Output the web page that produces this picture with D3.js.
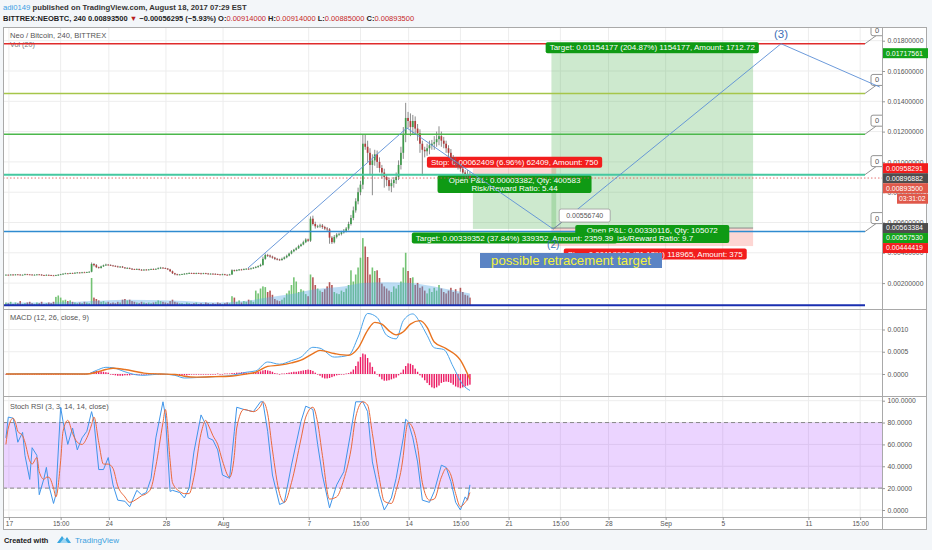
<!DOCTYPE html>
<html><head><meta charset="utf-8">
<script src="https://cdn.jsdelivr.net/npm/d3@7/dist/d3.min.js"></script>
<style>
html,body{margin:0;padding:0;background:#f3f6f9;}
svg{display:block;font-family:"Liberation Sans",Arial,sans-serif;}
</style></head><body>
<svg id="chart" width="932" height="550"></svg>
<script>
// ---------- DATA (prices in units of 1e-5 BTC unless noted) ----------
const closes=[
255,254,256,255,257,256,254,255,258,257,256,254,
255,257,256,253,252,254,253,251,250,252,255,258,
262,264,263,266,265,268,270,268,271,270,272,275,
326,318,305,300,310,318,322,320,316,
314,310,306,309,303,298,300,295,292,290,293,288,286,289,287,290,
292,291,294,298,302,299,296,290,
278,265,258,255,257,
259,262,264,266,265,263,266,264,262,265,263,260,262,261,259,257,256,258,255,254,257,
285,282,286,290,288,292,295,293,297,302,306,312,320,
360,385,382,375,368,360,356,352,360,370,380,395,410,420,430,445,455,470,488,480,
625,590,575,575,580,570,560,555,500,470,505,520,525,535,545,560,590,630,680,740,800,850,
1120,1100,1060,980,1010,1050,1000,960,930,900,880,840,860,880,900,
980,1060,1180,1290,1270,1230,1270,1220,1190,1120,1080,1070,1090,1110,1120,1130,1150,1170,1140,1120,1090,1060,1030,1010,990,970,955,930,915,914,893.5];
const wickUp=[
3,2,3,4,2,3,3,2,4,3,2,3,3,2,3,3,2,4,3,2,3,3,4,3,3,4,2,3,3,4,3,2,3,4,3,3,
10,6,8,4,5,4,6,3,4,
4,3,5,3,4,3,5,3,4,3,4,3,5,3,4,3,
4,5,3,6,5,3,4,3,
4,5,3,4,3,
3,4,3,5,3,4,3,3,4,3,3,4,3,3,4,3,3,4,3,3,4,
6,4,5,3,4,5,3,4,5,4,6,5,8,
15,10,8,6,6,5,6,5,8,6,8,6,8,6,7,8,6,10,8,6,
15,20,15,10,12,10,8,10,8,10,12,10,8,10,12,10,15,20,25,20,30,25,
58,60,40,30,40,30,25,30,20,25,20,15,25,20,30,
30,40,50,100,40,50,40,30,30,25,20,20,30,30,25,40,50,65,30,25,20,20,25,15,20,15,20,15,15,30,20];
const wickDn=[
3,3,2,3,4,2,3,3,2,3,3,2,3,3,2,4,3,2,3,3,2,3,3,2,3,2,3,3,2,3,3,4,3,2,3,3,
4,8,6,5,4,3,5,4,3,
3,4,3,5,3,4,3,3,5,3,3,4,3,4,3,3,
3,4,3,3,5,4,3,4,
4,5,6,4,3,
3,3,4,3,3,3,4,3,3,3,4,3,3,4,3,3,3,4,3,3,3,
3,6,4,5,4,3,4,5,3,4,4,5,4,
5,6,10,8,7,8,6,5,4,5,6,5,5,6,5,5,6,5,6,8,
8,10,15,12,10,12,10,15,40,12,8,10,8,10,8,10,12,10,15,15,20,20,
30,20,60,60,200,35,40,30,40,70,40,30,40,30,25,
20,30,40,50,50,60,50,40,50,60,170,40,30,40,30,40,30,40,40,30,30,30,25,30,25,20,20,25,20,20,10];
const volumes=[
5,4,6,3,5,4,7,3,4,5,6,4,3,5,4,6,3,4,5,4,6,13,15,12,
8,9,7,8,6,5,4,5,4,6,5,4,
40,12,10,8,6,7,5,6,4,
5,4,6,5,9,10,8,9,7,6,5,4,6,5,4,5,
4,5,6,8,7,6,5,4,
7,9,6,5,4,
4,3,5,4,3,4,5,3,4,3,5,4,3,4,3,5,4,3,4,5,4,
14,12,6,8,5,7,6,9,8,6,22,18,25,
28,27,20,22,16,10,8,7,9,12,18,22,30,41,35,20,24,22,17,14,
45,41,30,25,22,20,24,28,34,30,20,18,17,22,20,25,30,51,35,45,55,69,
97,85,70,45,55,50,51,40,32,28,25,22,20,28,25,
30,35,55,76,50,40,41,30,33,26,28,22,18,25,20,26,22,30,25,20,18,22,26,20,24,18,26,20,16,15,12];
// Vol MA(20) read at sampled bars [bar, value]
const volMA=[[0,5],[20,5],[36,7],[50,9],[70,8],[90,5],[100,7],[110,12],[120,17],[130,24],[140,27],[150,33],[160,34],[170,33],[180,28],[190,21],[195,18]];
// MACD (12,26,9) read at sampled bars [bar, value in BTC]
const macdLine=[[0,0],[20,0.00001],[34,0],[38,0.00008],[42,0.00015],[45,0.00014],[50,0.00005],[55,-0.00002],[58,-0.00003],[65,0],[71,-0.00003],[75,-0.00009],[80,-0.00008],[88,-0.00006],[94,-0.00004],[101,0.00004],[105,0.00007],[110,0.00027],[115,0.00022],[120,0.0003],[124,0.00038],[129,0.0006],[132,0.00058],[138,0.00038],[144,0.00042],[148,0.00083],[152,0.00136],[156,0.00127],[160,0.00087],[164,0.00079],[167,0.0012],[171,0.00135],[174,0.00116],[177,0.00087],[180,0.00059],[184,0.00055],[188,0.00016],[192,-0.00024],[195,-0.00037]];
const signalLine=[[0,0],[34,0],[38,0.00004],[42,0.0001],[45,0.00013],[50,0.0001],[55,0.00005],[58,0.00002],[65,0],[71,-0.00001],[75,-0.00005],[80,-0.00007],[88,-0.00006],[94,-0.00005],[101,0],[105,0.00004],[110,0.00017],[115,0.0002],[120,0.00025],[124,0.00031],[129,0.00046],[132,0.00053],[138,0.00046],[144,0.00042],[148,0.00058],[152,0.00098],[155,0.00116],[158,0.00112],[161,0.00097],[164,0.00088],[167,0.00095],[170,0.00112],[174,0.0012],[177,0.00105],[180,0.00072],[185,0.00057],[191,0.00031],[195,-0.00012]];
// MACD histogram per bar (units 1e-5 BTC)
const macdHist=[
0,0,0,0,0,0,0,0,0,0,0,0,0,0,0,0,0,0,0,0,0,0,0,0,0,0,0,0,0,0,0,0,0,0,
1,2,4,6,7,7,6,5,4,3,
-1,-2,-3,-4,-4,-4,-3,-3,-3,-2,-2,-2,-1,-1,-1,0,
0,0,1,1,0,0,0,-1,-1,-1,-1,-2,
-3,-4,-4,-3,-3,-2,
-1,-1,-1,-1,0,-1,0,0,0,0,0,1,0,0,1,1,1,
2,2,3,3,4,4,3,3,3,4,4,
5,6,8,9,8,7,5,
2,1,0,1,1,
2,3,4,5,5,6,7,8,9,10,9,7,
3,0,-4,-8,-10,-10,-9,-7,-5,
-3,-2,-1,0,1,2,
5,10,18,28,38,46,44,36,26,16,
6,0,-6,-12,-15,-15,
-14,-12,-10,-8,-3,
3,10,18,24,23,20,12,5,
-3,-8,-14,-20,-25,-30,-32,-30,-26,-20,-18,-17,-18,-20,-24,-28,-30,-32,-30,-28,-26,-24];
// Stoch RSI K and D, sampled [bar, value]
const stochK=[[0,66],[1,85],[3,84],[4,75],[5,62],[7,71],[8,50],[10,28],[11,57],[13,50],[14,14],[16,29],[17,39],[18,23],[20,6],[21,14],[23,94],[24,81],[26,60],[28,75],[30,55],[32,66],[34,72],[36,90],[37,81],[39,37],[41,37],[43,48],[45,23],[47,9],[50,8],[52,3],[55,18],[57,14],[59,16],[61,29],[63,66],[66,99],[67,87],[69,17],[70,18],[73,16],[75,11],[77,20],[79,53],[82,87],[84,78],[85,66],[87,64],[89,55],[91,32],[94,29],[96,72],[97,94],[100,92],[104,90],[107,99],[108,99],[110,72],[112,32],[115,5],[117,7],[120,41],[124,81],[126,95],[129,92],[131,60],[133,32],[136,2],[139,23],[142,35],[145,72],[147,99],[150,99],[152,90],[154,44],[157,14],[159,0],[162,11],[164,29],[167,66],[168,83],[169,81],[171,66],[173,44],[175,9],[178,7],[180,17],[183,41],[185,39],[187,26],[189,7],[191,0],[193,12],[194,9],[195,23]];
const stochD=[[0,60],[1,75],[3,84],[4,80],[5,72],[7,68],[8,62],[10,45],[11,42],[13,48],[14,35],[16,28],[17,30],[18,30],[20,20],[21,12],[23,45],[24,72],[26,82],[28,70],[30,62],[32,60],[34,66],[36,78],[37,85],[39,62],[41,42],[43,42],[45,38],[47,22],[50,12],[52,7],[55,10],[57,13],[59,15],[61,20],[63,40],[66,80],[67,92],[69,45],[70,25],[73,17],[75,15],[77,15],[79,30],[82,70],[84,82],[85,78],[87,68],[89,60],[91,45],[94,30],[96,50],[97,75],[100,92],[104,90],[107,95],[108,99],[110,88],[112,55],[115,15],[117,7],[120,25],[124,65],[126,85],[129,94],[131,80],[133,50],[136,10],[139,12],[142,28],[145,55],[147,85],[150,99],[152,96],[154,70],[157,28],[159,8],[162,6],[164,18],[167,50],[168,70],[169,80],[171,75],[173,58],[175,25],[178,9],[180,10],[183,30],[185,38],[187,32],[189,15],[191,3],[193,7],[194,10],[195,16]];
// Axis ticks
const xTickDates=[new Date(2017,6,17),new Date(2017,6,20,15),new Date(2017,6,24),new Date(2017,6,28),new Date(2017,7,1),new Date(2017,7,7),new Date(2017,7,10,15),new Date(2017,7,14),new Date(2017,7,17,15),new Date(2017,7,21),new Date(2017,7,24,15),new Date(2017,7,28),new Date(2017,8,1),new Date(2017,8,5),new Date(2017,8,11),new Date(2017,8,14,15)];
const xTickLabels=["17","15:00","24","28","Aug","7","15:00","14","15:00","21","15:00","28","Sep","5","11","15:00"];
const priceTicks=[0.002,0.004,0.006,0.008,0.010,0.012,0.014,0.016,0.018];
const macdTicks=[0,0.0005,0.001];
const rsiTicks=[0,20,40,60,80,100];
// Drawings (prices in BTC)
const hLinePrices=[0.0178,0.01452,0.01183,0.00916,0.0054,0.00054];
const lastPrice=0.008935;
const shortPos={entry:0.00896882,stop:0.00958291,target:0.0055753,t0:new Date(2017,7,18,12),t1:new Date(2017,7,24,8)};
const longPos={entry:0.00563384,stop:0.00444419,target:0.01717561,t0:new Date(2017,7,24,0),t1:new Date(2017,8,7,3)};
const wavePath=[[new Date(2017,7,2,18),0.0030],[new Date(2017,7,13,21),0.01224],[new Date(2017,7,24,3),0.0055674],[new Date(2017,8,9,2),0.0178],[new Date(2017,8,16,0),0.01494]];
const priceTags=[0.01717561,0.00958291,0.00896882,0.008935,0.00563384,0.0055753,0.00444419];

// ---------- SCALES / LAYOUT ----------
const S=1e-5;
const L=3,R=882,FR=927,T=27,MB=309,KB=396,RB=517,AB=530;
const barTime=i=>new Date(2017,6,16,19+4*i);
const x=d3.scaleTime().domain([new Date(2017,6,17),new Date(2017,8,16)]).range([8.9,8.9+61*14.277]);
const yP=d3.scaleLinear().domain([0,0.018]).range([313.4,40.7]);
const yV=d3.scaleLinear().domain([0,100]).range([306,236]);
const yM=d3.scaleLinear().domain([0,0.001]).range([374,329.5]);
const yR=d3.scaleLinear().domain([0,100]).range([510,400.7]);
const xb=i=>x(barTime(i));

const svg=d3.select("#chart");
const defs=svg.append("defs");
[["main",T,MB],["macd",MB,KB],["rsi",KB,RB]].forEach(([id,t,b])=>{
  defs.append("clipPath").attr("id","clip-"+id).append("rect").attr("x",L).attr("y",t).attr("width",R-L).attr("height",b-t);
});
svg.append("rect").attr("width",932).attr("height",550).attr("fill","#f3f6f9");
svg.append("rect").attr("x",L).attr("y",T).attr("width",FR-L).attr("height",AB-T).attr("fill","#fff");

// header
const h1=svg.append("text").attr("x",3).attr("y",10).attr("font-size",7.7).attr("font-weight","bold").attr("fill","#333");
h1.append("tspan").attr("fill","#3a9ee4").attr("font-weight","normal").text("adi0149");
h1.append("tspan").text(" published on TradingView.com, August 18, 2017 07:29 EST");
const h2=svg.append("text").attr("x",3).attr("y",21).attr("font-size",7.5).attr("fill","#222").attr("font-weight","bold");
[["BITTREX:NEOBTC, 240  0.00893500 ","#222"],["▼","#b71c1c"],[" −0.00056295 (−5.93%)  O:","#222"],["0.00914000","#c62828"],[" H:","#222"],["0.00914000","#c62828"],[" L:","#222"],["0.00885000","#c62828"],[" C:","#222"],["0.00893500","#c62828"]].forEach(([t,c])=>h2.append("tspan").attr("fill",c).attr("font-weight",c=="#222"?"bold":"normal").text(t));

// grids
const grid=svg.append("g").attr("stroke","#ededed").attr("stroke-width",1);
xTickDates.forEach(d=>grid.append("line").attr("x1",x(d)).attr("x2",x(d)).attr("y1",T).attr("y2",RB));
priceTicks.forEach(p=>grid.append("line").attr("x1",L).attr("x2",R).attr("y1",yP(p)).attr("y2",yP(p)));
macdTicks.forEach(p=>grid.append("line").attr("x1",L).attr("x2",R).attr("y1",yM(p)).attr("y2",yM(p)));
rsiTicks.forEach(p=>grid.append("line").attr("x1",L).attr("x2",R).attr("y1",yR(p)).attr("y2",yR(p)));

// pane titles
svg.append("text").attr("x",10).attr("y",38).attr("font-size",7.6).attr("fill","#555").text("Neo / Bitcoin, 240, BITTREX");
svg.append("text").attr("x",10).attr("y",47).attr("font-size",7.2).attr("fill","#777").text("Vol (20)");
svg.append("text").attr("x",10).attr("y",320).attr("font-size",7.4).attr("fill","#555").text("MACD (12, 26, close, 9)");
svg.append("text").attr("x",10).attr("y",409).attr("font-size",7.4).attr("fill","#555").text("Stoch RSI (3, 3, 14, 14, close)");

const main=svg.append("g").attr("clip-path","url(#clip-main)");

function tag(g,cx,cy,txt,bg,fs){
  const gg=g.append("g");
  const r=gg.append("rect");
  const t=gg.append("text").attr("x",cx).attr("y",cy).attr("dy","0.35em").attr("text-anchor","middle").attr("fill","#fff").attr("font-size",fs||8).text(txt);
  const w=t.node().getComputedTextLength()+8;
  r.attr("x",cx-w/2).attr("y",cy-5.5).attr("width",w).attr("height",11).attr("rx",2).attr("fill",bg);
  return gg;
}
function box2(g,cx,cy,w,l1,l2){
  g.append("rect").attr("x",cx-w/2).attr("y",cy-9).attr("width",w).attr("height",18).attr("rx",2).attr("fill","#0f9a14");
  g.append("text").attr("x",cx).attr("y",cy-1.5).attr("text-anchor","middle").attr("fill","#fff").attr("font-size",8).text(l1);
  g.append("text").attr("x",cx).attr("y",cy+7).attr("text-anchor","middle").attr("fill","#fff").attr("font-size",8).text(l2);
}

// zones
const zones=main.append("g");
function zone(p){
  const x0=x(p.t0),x1=x(p.t1);
  const top=(a,b)=>Math.min(yP(a),yP(b)), hh=(a,b)=>Math.abs(yP(a)-yP(b));
  zones.append("rect").attr("x",x0).attr("width",x1-x0).attr("y",top(p.entry,p.target)).attr("height",hh(p.entry,p.target)).attr("fill","#4caf50").attr("opacity",0.28);
  zones.append("rect").attr("x",x0).attr("width",x1-x0).attr("y",top(p.entry,p.stop)).attr("height",hh(p.entry,p.stop)).attr("fill","#f44336").attr("opacity",0.22);
  zones.append("line").attr("x1",x0).attr("x2",x1).attr("y1",yP(p.entry)).attr("y2",yP(p.entry)).attr("stroke","#8a8a8a").attr("stroke-width",1);
}
zone(longPos); zone(shortPos);

// short position labels (under candles)
const shortG=main.append("g");
const scx=(x(shortPos.t0)+x(shortPos.t1))/2;
tag(shortG,scx,yP(shortPos.stop)-6,"Stop: 0.00062409 (6.96%) 62409, Amount: 750","#f21d1d");
box2(shortG,scx,yP(shortPos.entry)+6.5,154,"Open P&L: 0.00003382, Qty: 400583","Risk/Reward Ratio: 5.44");

// volume
const vg=main.append("g");
closes.forEach((c,i)=>{
  const o=i?closes[i-1]:c;
  vg.append("rect").attr("x",xb(i)-0.8).attr("width",1.6).attr("y",yV(volumes[i])).attr("height",yV(0)-yV(volumes[i]))
    .attr("fill",c>=o?"#5cb85c":"#a83a3a").attr("opacity",0.85);
});
main.append("path").datum(volMA).attr("d",d3.area().x(d=>xb(d[0])).y0(yV(0)).y1(d=>yV(d[1])).curve(d3.curveMonotoneX))
  .attr("fill","#5aa9e6").attr("opacity",0.4);

// candles
const cg=main.append("g");
closes.forEach((c,i)=>{
  const o=i?closes[i-1]:c;
  const hi=Math.max(o,c)+wickUp[i], lo=Math.min(o,c)-wickDn[i];
  const up=c>=o, col=up?"#3f9a4c":"#b23a3a";
  const xx=xb(i);
  cg.append("line").attr("x1",xx).attr("x2",xx).attr("y1",yP(hi*S)).attr("y2",yP(lo*S)).attr("stroke","#6d6d6d").attr("stroke-width",0.8);
  const y1=yP(Math.max(o,c)*S), y2=yP(Math.min(o,c)*S);
  cg.append("rect").attr("x",xx-0.85).attr("width",1.7).attr("y",y1).attr("height",Math.max(0.8,y2-y1)).attr("fill",col);
});

// horizontal lines
const hColors=["#e02b2b","#a6c64a","#4cb84c","#46c8a0","#2f8bd0","#1a2fb0"];
const hWidths=[1.5,1.5,1.5,2,1.5,2];
hLinePrices.forEach((p,k)=>{
  main.append("line").attr("x1",L).attr("x2",865).attr("y1",yP(p)).attr("y2",yP(p)).attr("stroke",hColors[k]).attr("stroke-width",hWidths[k]);
});
main.append("line").attr("x1",L).attr("x2",R).attr("y1",yP(lastPrice)).attr("y2",yP(lastPrice)).attr("stroke","#e05050").attr("stroke-width",0.8).attr("stroke-dasharray","1.5,2");
// callouts
hLinePrices.slice(0,5).forEach(p=>{
  const yy=yP(p);
  main.append("line").attr("x1",865).attr("y1",yy).attr("x2",876).attr("y2",yy-8).attr("stroke","#777").attr("stroke-width",0.8);
  main.append("rect").attr("x",871).attr("y",yy-19).attr("width",20).attr("height",11).attr("rx",2).attr("fill","#fff").attr("stroke","#777").attr("stroke-width",0.8);
  main.append("text").attr("x",875).attr("y",yy-11).attr("font-size",7.5).attr("fill","#555").text("0");
});

// long position labels
const longG=main.append("g");
const lcx=(x(longPos.t0)+x(longPos.t1))/2;
tag(longG,lcx,yP(longPos.target)-5.5,"Target: 0.01154177 (204.87%) 1154177, Amount: 1712.72","#0f9a14");
box2(longG,lcx,yP(longPos.entry)+6,154,"Open P&L: 0.00330116, Qty: 105072","Risk/Reward Ratio: 9.7");
tag(longG,lcx+3,yP(longPos.stop)+8,"Stop: 0.00118965 (21.12%) 118965, Amount: 375","#f21d1d");
// short target label
tag(main,scx,yP(shortPos.target)+9,"Target: 0.00339352 (37.84%) 339352, Amount: 2359.39","#0f9a14");

// wave path
main.append("path").datum(wavePath).attr("d",d3.line().x(d=>x(d[0])).y(d=>yP(d[1]))).attr("fill","none").attr("stroke","#5b8fd6").attr("stroke-width",0.9);
const p2=wavePath[2], p3=wavePath[3];
main.append("text").attr("x",x(p3[0])).attr("y",yP(p3[1])-6).attr("text-anchor","middle").attr("font-size",11.5).attr("fill","#3d6fb6").text("(3)");
main.append("text").attr("x",x(p2[0])).attr("y",yP(p2[1])+19).attr("text-anchor","middle").attr("font-size",10).attr("fill","#3d6fb6").text("(2)");
main.append("line").attr("x1",x(p2[0])).attr("y1",yP(p2[1])).attr("x2",x(p2[0])+9).attr("y2",yP(p2[1])-7).attr("stroke","#888").attr("stroke-width",0.8);
main.append("rect").attr("x",x(p2[0])+6).attr("y",yP(p2[1])-20).attr("width",51).attr("height",13).attr("rx",2).attr("fill","#fff").attr("stroke","#999").attr("stroke-width",0.8);
main.append("text").attr("x",x(p2[0])+31.5).attr("y",yP(p2[1])-11).attr("text-anchor","middle").attr("font-size",7).attr("fill","#555").text("0.00556740");
// retracement note
main.append("rect").attr("x",480).attr("y",253).attr("width",182).attr("height",15).attr("fill","#5b84c4");
main.append("text").attr("x",571).attr("y",265).attr("text-anchor","middle").attr("font-size",13.2).attr("fill","#f4f43c").text("possible retracement target");

// MACD pane
const mg=svg.append("g").attr("clip-path","url(#clip-macd)");
macdHist.forEach((h,i)=>{
  const v=h*S;
  mg.append("rect").attr("x",xb(i)-0.7).attr("width",1.4).attr("y",Math.min(yM(v),yM(0))).attr("height",Math.max(0.6,Math.abs(yM(v)-yM(0)))).attr("fill","#ec1a63");
});
mg.append("path").datum(macdLine).attr("d",d3.line().x(d=>xb(d[0])).y(d=>yM(d[1])).curve(d3.curveMonotoneX)).attr("fill","none").attr("stroke","#4aa3ea").attr("stroke-width",1);
mg.append("path").datum(signalLine).attr("d",d3.line().x(d=>xb(d[0])).y(d=>yM(d[1])).curve(d3.curveMonotoneX)).attr("fill","none").attr("stroke","#e8731f").attr("stroke-width",1.4);

// RSI pane
const rg=svg.append("g").attr("clip-path","url(#clip-rsi)");
rg.append("rect").attr("x",L).attr("width",R-L).attr("y",yR(80)).attr("height",yR(20)-yR(80)).attr("fill","#9c27ff").attr("opacity",0.2);
[80,20].forEach(v=>rg.append("line").attr("x1",L).attr("x2",R).attr("y1",yR(v)).attr("y2",yR(v)).attr("stroke","#888").attr("stroke-dasharray","4,3"));
rg.append("path").datum(stochK).attr("d",d3.line().x(d=>xb(d[0])).y(d=>yR(d[1]))).attr("fill","none").attr("stroke","#3f95ea").attr("stroke-width",1);
rg.append("path").datum(stochD).attr("d",d3.line().x(d=>xb(d[0])).y(d=>yR(d[1])).curve(d3.curveMonotoneX)).attr("fill","none").attr("stroke","#ea6a3c").attr("stroke-width",1);

// frames and separators
const fr=svg.append("g").attr("stroke","#a9a9a9").attr("fill","none");
fr.append("rect").attr("x",L+0.5).attr("y",T+0.5).attr("width",FR-L-1).attr("height",AB-T-1);
[MB,KB,RB].forEach(yy=>fr.append("line").attr("x1",L).attr("x2",FR).attr("y1",yy+0.5).attr("y2",yy+0.5));
fr.append("line").attr("x1",R+0.5).attr("x2",R+0.5).attr("y1",T).attr("y2",AB);

// axes
function styleAxis(g){g.select(".domain").remove();g.selectAll("text").attr("fill","#555").attr("font-family","Liberation Sans, Arial, sans-serif");g.selectAll("line").attr("stroke","#999");}
svg.append("g").attr("transform",`translate(${R},0)`).call(d3.axisRight(yP).tickValues(priceTicks).tickFormat(d=>d.toFixed(8)).tickSize(3).tickPadding(2.5)).call(styleAxis).selectAll("text").attr("font-size",6.8);
svg.append("g").attr("transform",`translate(${R},0)`).call(d3.axisRight(yM).tickValues(macdTicks).tickFormat(d=>d.toFixed(4)).tickSize(3).tickPadding(2.5)).call(styleAxis).selectAll("text").attr("font-size",6.8);
svg.append("g").attr("transform",`translate(${R},0)`).call(d3.axisRight(yR).tickValues(rsiTicks).tickFormat(d=>d.toFixed(4)).tickSize(3).tickPadding(2.5)).call(styleAxis).selectAll("text").attr("font-size",6.8);
svg.append("g").attr("transform",`translate(0,${RB})`).call(d3.axisBottom(x).tickValues(xTickDates).tickFormat((d,i)=>xTickLabels[i]).tickSize(3).tickPadding(1.5)).call(styleAxis).selectAll("text").attr("font-size",6.6);

// right price tags
const tagColors=["#13a31a","#f21d1d","#4d4d4d","#e0584a","#4d4d4d","#13a31a","#f21d1d"];
let prevY=-99;
const tg=svg.append("g");
priceTags.forEach((p,k)=>{
  let yy=Math.max(yP(p),prevY+10);
  prevY=yy;
  tg.append("rect").attr("x",R+1).attr("y",yy-5).attr("width",45).attr("height",10).attr("fill",tagColors[k]);
  tg.append("text").attr("x",R+4).attr("y",yy).attr("dy","0.35em").attr("font-size",7).attr("fill","#fff").text(p.toFixed(8));
  if(k===3){
    prevY=yy+10.5;
    tg.append("rect").attr("x",897).attr("y",yy+5.5).attr("width",31).attr("height",10).attr("fill","#e0584a");
    tg.append("text").attr("x",899).attr("y",yy+10.5).attr("dy","0.35em").attr("font-size",6.8).attr("fill","#fff").text("03:31:02");
  }
});

// footer
svg.append("text").attr("x",4).attr("y",543).attr("font-size",7.4).attr("font-weight","bold").attr("fill","#222").text("Created with");
const logo=svg.append("g").attr("transform","translate(57,535)");
logo.append("path").attr("d","M0,8 L5,1 L8,5 L10,2 L14,8 Z").attr("fill","#3aa7e0");
logo.append("path").attr("d","M3,8 L7,3 L11,8 Z").attr("fill","#9fd6f2");
svg.append("text").attr("x",75).attr("y",543).attr("font-size",8).attr("fill","#3aa0e0").text("TradingView");
</script></body></html>
